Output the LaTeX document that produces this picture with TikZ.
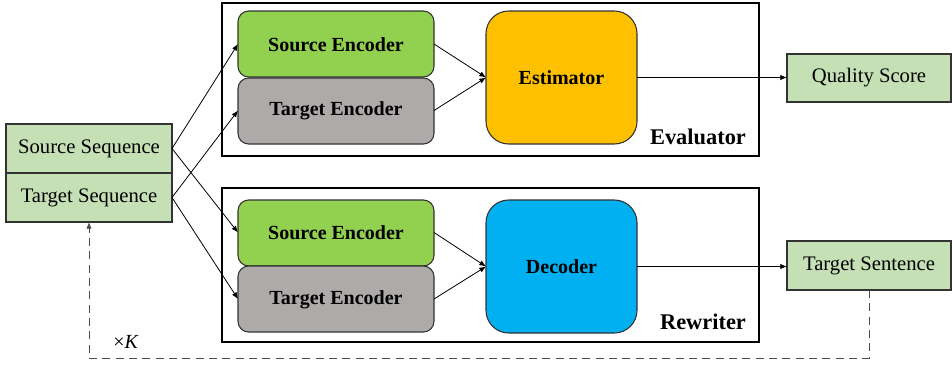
\documentclass[tikz,border=0pt]{standalone}
\usepackage{fontspec}
\setmainfont{Liberation Serif}
\usetikzlibrary{arrows.meta,calc}
\definecolor{lgreen}{HTML}{C5E0B4}
\definecolor{sgreen}{HTML}{92D050}
\definecolor{tgray}{HTML}{AEAAAA}
\definecolor{estc}{HTML}{FFC000}
\definecolor{decc}{HTML}{00B0F0}
\tikzset{
  px/.style={x=0.75pt,y=-0.75pt},
  io/.style={draw=black!80,fill=lgreen,line width=0.8pt},
  iot/.style={font=\fontsize{15.5}{17}\selectfont},
  enc/.style={draw=black!80,rounded corners=8pt,line width=0.8pt},
  big/.style={draw=black!80,rounded corners=17pt,line width=0.8pt},
  bt/.style={font=\bfseries\fontsize{15}{17}\selectfont},
  frame/.style={draw=black,line width=1pt},
  arr/.style={-{Latex[length=5pt,width=4pt]},line width=0.6pt},
  lbl/.style={font=\bfseries\fontsize{16.8}{19}\selectfont,anchor=center}
}
\begin{document}
\begin{tikzpicture}[px]
\useasboundingbox (0,0) rectangle (952,364);
% frames
\draw[frame] (222,3) rectangle (759,156);
\draw[frame] (222,188) rectangle (759,342);
\node[lbl] (evl) at (698,137) {Evaluator};
\node[lbl] (rwl) at (703,322) {Rewriter};
% left input box
\path[io] (6,124) rectangle (172,222);
\draw[black!80,line width=0.8pt] (6,173) -- (172,173);
\node[iot] (ss) at (89,148.5) {Source Sequence};
\node[iot] (ts) at (89,197.5) {Target Sequence};
\coordinate (ssr) at (172,148.5);
\coordinate (tsr) at (172,197.5);
\coordinate (inb) at (89,222);
% evaluator internals
\path[enc,fill=sgreen] (238,11) rectangle (434,77);
\node[bt] (se1) at (336,44.5) {Source Encoder};
\path[enc,fill=tgray] (238,78) rectangle (434,144);
\node[bt] (te1) at (336,111) {Target Encoder};
\path[big,fill=estc] (486,11) rectangle (637,144);
\node[bt] (est) at (561.5,78) {Estimator};
\coordinate (se1l) at (238,44); \coordinate (se1r) at (434,44);
\coordinate (te1l) at (238,110.5); \coordinate (te1r) at (434,110.5);
\coordinate (estl) at (486,77.5); \coordinate (estr) at (637,77.5);
% rewriter internals
\path[enc,fill=sgreen] (238,200) rectangle (434,266);
\node[bt] (se2) at (336,233) {Source Encoder};
\path[enc,fill=tgray] (238,266) rectangle (434,332);
\node[bt] (te2) at (336,299.5) {Target Encoder};
\path[big,fill=decc] (486,200) rectangle (637,333);
\node[bt] (dec) at (561.5,267) {Decoder};
\coordinate (se2l) at (238,232.5); \coordinate (se2r) at (434,232.5);
\coordinate (te2l) at (238,299); \coordinate (te2r) at (434,299);
\coordinate (decl) at (486,266.5); \coordinate (decr) at (637,266.5);
% outputs
\path[io] (787,54) rectangle (951,102);
\node[iot] (qst) at (869,78) {Quality Score};
\path[io] (787,241) rectangle (951,290);
\node[iot] (tst) at (869,265.5) {Target Sentence};
\coordinate (qsl) at (787,77.5);
\coordinate (tstl) at (787,266.5);
\coordinate (tstb) at (869,290);
% arrows
\draw[arr] (ssr) -- (se1l);
\draw[arr] (ssr) -- (se2l);
\draw[arr] (tsr) -- (te1l);
\draw[arr] (tsr) -- (te2l);
\draw[arr] (se1r) -- (estl);
\draw[arr] (te1r) -- (estl);
\draw[arr] (se2r) -- (decl);
\draw[arr] (te2r) -- (decl);
\draw[arr] (estr) -- (qsl);
\draw[arr] (decr) -- (tstl);
\draw[arr,black!70,dash pattern=on 6pt off 4pt] (tstb) |- (89,358) -- (inb);
\node[font=\fontsize{15}{17}\selectfont] (k) at (126,342) {×\textit{K}};
\end{tikzpicture}
\end{document}
